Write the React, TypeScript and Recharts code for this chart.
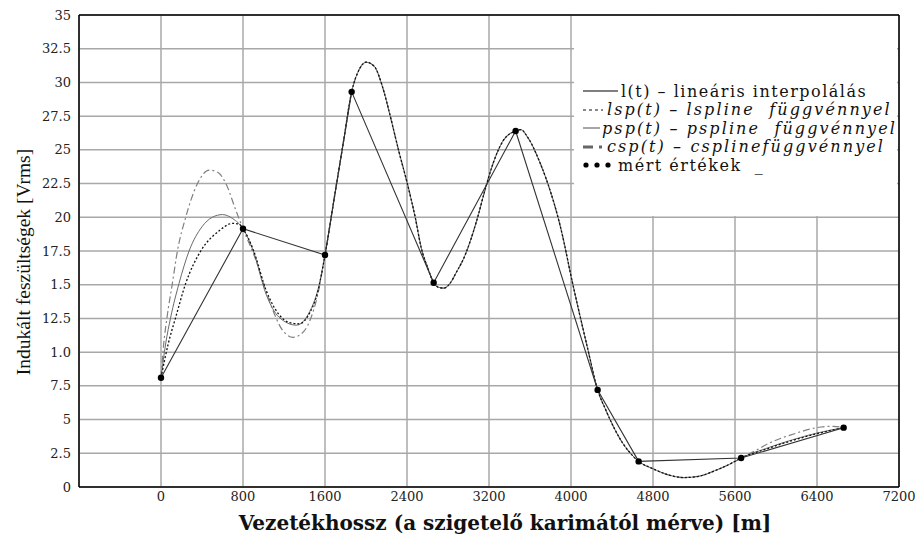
import React from 'react';
import {
  ComposedChart,
  Line,
  Scatter,
  XAxis,
  YAxis,
  CartesianGrid,
  ReferenceLine,
  Legend,
  Label,
} from 'recharts';

// ---- axis ticks ----
const X_TICKS = [0, 800, 1600, 2400, 3200, 4000, 4800, 5600, 6400, 7200];
const Y_TICKS = [0, 2.5, 5, 7.5, 10, 12.5, 15, 17.5, 20, 22.5, 25, 27.5, 30, 32.5, 35];
const Y_TICK_LABELS = ['0', '2.5', '5', '7.5', '1.0', '12.5', '1.5', '17.5', '20', '22.5', '25', '27.5', '30', '32.5', '35'];

// ---- measured values (mért értékek) ----
const MEAS_X = [0, 800, 1600, 1860, 2660, 3460, 4260, 4660, 5660, 6660];
const MEAS_Y = [8.1, 19.15, 17.2, 29.3, 15.15, 26.4, 7.2, 1.9, 2.15, 4.4];

// ---- spline curves ----
// shared middle section (1600 .. 5660), splines nearly coincide there
const MID_X = [1600, 1700, 1780, 1860, 1930, 2000, 2080, 2160, 2240, 2320, 2400, 2480, 2540, 2600, 2660, 2710, 2760, 2820, 2880, 2950, 3080, 3160, 3240, 3340, 3460, 3510, 3580, 3700, 3760, 3900, 4010, 4160, 4260, 4340, 4415, 4500, 4580, 4660, 4800, 4950, 5100, 5250, 5400, 5550, 5660];
const MID_Y = [17.2, 21.9, 25.6, 29.3, 30.9, 31.5, 31.2, 29.7, 27.4, 24.9, 22.6, 20.0, 17.7, 16.3, 15.15, 14.8, 14.75, 15.1, 15.9, 16.9, 19.75, 22.0, 24.0, 25.7, 26.4, 26.5, 25.9, 24.0, 22.8, 19.2, 15.3, 10.35, 7.2, 5.7, 4.46, 3.3, 2.5, 1.9, 1.35, 0.9, 0.7, 0.8, 1.2, 1.7, 2.15];

// lsp(t) - lspline
const LSP_START_X = [0, 70, 144, 241, 388, 568, 700, 760, 800, 900, 1025, 1150, 1250, 1350, 1450, 1530];
const LSP_START_Y = [8.1, 10.6, 12.6, 15.1, 17.5, 19.0, 19.55, 19.5, 19.15, 17.6, 14.6, 12.8, 12.2, 12.1, 12.9, 14.5];
const LSP_END_X = [5900, 6160, 6400, 6660];
const LSP_END_Y = [2.8, 3.45, 3.95, 4.4];

// psp(t) - pspline
const PSP_START_X = [0, 45, 95, 176, 274, 400, 500, 600, 700, 800, 900, 1025, 1150, 1320, 1450, 1530];
const PSP_START_Y = [8.1, 10.6, 12.6, 15.1, 17.5, 19.3, 20.0, 20.2, 19.9, 19.15, 17.5, 14.3, 12.6, 12.0, 13.0, 14.6];
const PSP_END_X = [5900, 6160, 6400, 6660];
const PSP_END_Y = [2.85, 3.5, 4.0, 4.4];

// csp(t) - cspline
const CSP_START_X = [0, 25, 59, 111, 160, 241, 356, 470, 560, 633, 731, 800, 927, 1057, 1188, 1290, 1400, 1450, 1530];
const CSP_START_Y = [8.1, 10.5, 12.6, 15.1, 17.5, 20.0, 22.5, 23.5, 23.3, 22.5, 20.5, 19.15, 16.8, 13.8, 11.6, 11.1, 11.6, 12.3, 14.3];
const CSP_END_X = [5800, 5920, 6180, 6440, 6560, 6660];
const CSP_END_Y = [2.7, 3.2, 3.95, 4.45, 4.5, 4.4];

const zip = (xs: number[], ys: number[]) => xs.map((x, i) => ({ x, y: ys[i] }));

const measured = zip(MEAS_X, MEAS_Y);
const mid = zip(MID_X, MID_Y);
const lsp = [...zip(LSP_START_X, LSP_START_Y), ...mid, ...zip(LSP_END_X, LSP_END_Y)];
const psp = [...zip(PSP_START_X, PSP_START_Y), ...mid, ...zip(PSP_END_X, PSP_END_Y)];
const csp = [...zip(CSP_START_X, CSP_START_Y), ...mid, ...zip(CSP_END_X, CSP_END_Y)];

const SERIF = '"DejaVu Serif", serif';
const TIMES = '"Liberation Serif", serif';

const LegendBox = () => {
  const row: React.CSSProperties = {
    display: 'flex',
    alignItems: 'center',
    height: 18.5,
    whiteSpace: 'pre',
  };
  const txt: React.CSSProperties = {
    fontFamily: SERIF,
    fontSize: 16,
    letterSpacing: 1.5,
    color: '#111',
  };
  const it: React.CSSProperties = { ...txt, fontStyle: 'italic', letterSpacing: 2.1 };
  return (
    <div style={{ paddingTop: 66, paddingLeft: 9 }}>
      <div style={row}>
        <svg width={38} height={10}><line x1={0} y1={5} x2={35} y2={5} stroke="#555" strokeWidth={1.3} /></svg>
        <span style={txt}>l(t) – lineáris interpolálás</span>
      </div>
      <div style={row}>
        <svg width={24} height={10}><line x1={0} y1={5} x2={20} y2={5} stroke="#111" strokeWidth={1.2} strokeDasharray="3 3" /></svg>
        <span style={it}>lsp(t) – lspline  függvénnyel</span>
      </div>
      <div style={row}>
        <svg width={19} height={10}><line x1={0} y1={5} x2={17} y2={5} stroke="#777" strokeWidth={1.3} /></svg>
        <span style={it}>psp(t) – pspline  függvénnyel</span>
      </div>
      <div style={row}>
        <svg width={24} height={10}><line x1={0} y1={5} x2={22} y2={5} stroke="#666" strokeWidth={3} strokeDasharray="10 6 3 10" /></svg>
        <span style={it}>csp(t) – csplinefüggvénnyel</span>
      </div>
      <div style={row}>
        <svg width={35} height={10}>
          <circle cx={3} cy={5} r={2.6} fill="#000" />
          <circle cx={14} cy={5} r={2.6} fill="#000" />
          <circle cx={25} cy={5} r={2.6} fill="#000" />
        </svg>
        <span style={txt}>mért értékek  _</span>
      </div>
    </div>
  );
};

export default function App() {
  return (
    <div style={{ position: 'absolute', left: 0, top: 0, width: 920, height: 534, background: '#fff' }}>
      <ComposedChart
        width={920}
        height={534}
        margin={{ top: 15, right: 21, left: 0, bottom: 0 }}
      >
        <CartesianGrid stroke="#a8a8a8" strokeWidth={1.5} horizontal vertical />
        <XAxis
          type="number"
          dataKey="x"
          domain={[-800, 7200]}
          ticks={X_TICKS}
          allowDataOverflow
          height={47}
          stroke="#000"
          strokeWidth={1.5}
          tickLine={false}
          tickSize={3}
          tick={{ fontFamily: SERIF, fontSize: 13, fill: '#222' }}
        >
          <Label
            content={() => (
              <text x={505} y={523} textAnchor="middle" dominantBaseline="central" fontFamily={SERIF} fontWeight="bold" fontSize={20} fill="#111">
                Vezetékhossz (a szigetelő karimától mérve) [m]
              </text>
            )}
          />
        </XAxis>
        <YAxis
          type="number"
          dataKey="y"
          domain={[0, 35]}
          ticks={Y_TICKS}
          width={79}
          stroke="#000"
          strokeWidth={1.5}
          tickLine={false}
          tickFormatter={(v: number) => Y_TICK_LABELS[Y_TICKS.indexOf(v)] ?? String(v)}
          tick={{ fontFamily: SERIF, fontSize: 13, fill: '#222' }}
        >
          <Label
            content={() => (
              <text x={23} y={262} textAnchor="middle" dominantBaseline="central" transform="rotate(-90 23 262)" fontFamily={TIMES} fontSize={19.5} fill="#111">
                Indukált feszültségek [Vrms]
              </text>
            )}
          />
        </YAxis>
        <ReferenceLine y={35} stroke="#000" strokeWidth={1.5} />
        <ReferenceLine x={7200} stroke="#000" strokeWidth={1.5} />
        <Line data={csp} dataKey="y" type="monotone" stroke="#808080" strokeWidth={1.2} strokeDasharray="7 3 2 3" dot={false} isAnimationActive={false} />
        <Line data={psp} dataKey="y" type="monotone" stroke="#6a6a6a" strokeWidth={1} dot={false} isAnimationActive={false} />
        <Line data={lsp} dataKey="y" type="monotone" stroke="#111" strokeWidth={1.3} strokeDasharray="2 2" dot={false} isAnimationActive={false} />
        <Line data={measured} dataKey="y" type="linear" stroke="#333" strokeWidth={1.1} dot={false} isAnimationActive={false} />
        <Scatter data={measured} dataKey="y" fill="#000" shape={(p: any) => <circle cx={p.cx} cy={p.cy} r={3.2} fill="#000" />} isAnimationActive={false} />
        <Legend
          layout="horizontal"
          verticalAlign="middle"
          align="center"
          content={() => <LegendBox />}
          wrapperStyle={{ left: 574, top: 16, width: 323, height: 200, background: '#fff', margin: 0, padding: 0 }}
        />
      </ComposedChart>
    </div>
  );
}
